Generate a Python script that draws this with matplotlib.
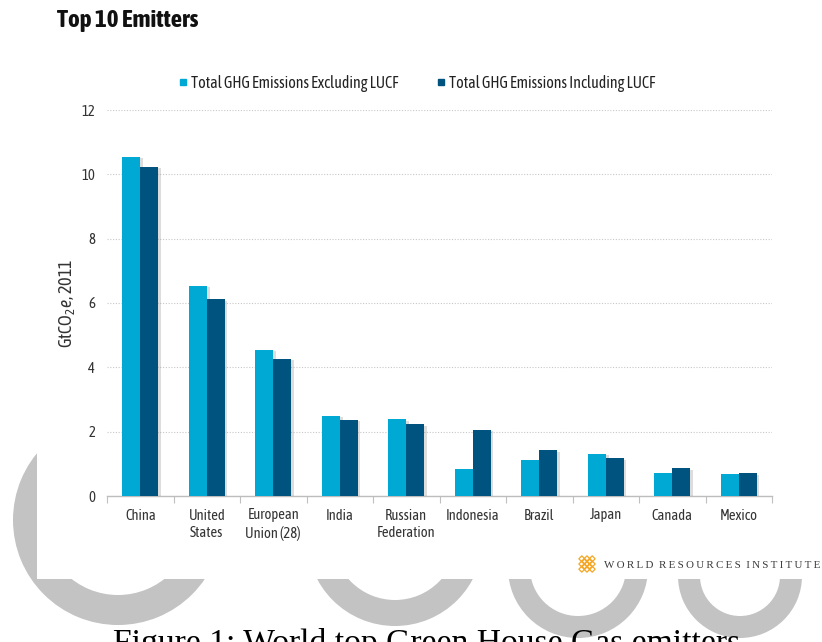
import matplotlib
matplotlib.use('Agg')
import matplotlib.pyplot as plt
import numpy as np
from matplotlib import font_manager
from matplotlib.patches import Wedge, Rectangle
from matplotlib.lines import Line2D
import matplotlib.patheffects as pe

# ---------------- data ----------------
categories = ["China", "United\nStates", "European\nUnion (28)", "India", "Russian\nFederation",
              "Indonesia", "Brazil", "Japan", "Canada", "Mexico"]
excl_lucf = [10.54, 6.53, 4.54, 2.49, 2.38, 0.84, 1.13, 1.31, 0.71, 0.69]
incl_lucf = [10.23, 6.12, 4.26, 2.36, 2.23, 2.05, 1.42, 1.17, 0.86, 0.71]
series_names = ["Total GHG Emissions Excluding LUCF", "Total GHG Emissions Including LUCF"]
yticks = [0, 2, 4, 6, 8, 10, 12]

# ---------------- fonts ----------------
fl = font_manager.fontManager.ttflist
def wnum(w):
    if isinstance(w, (int, float)):
        return w
    return {'ultralight': 200, 'light': 300, 'normal': 400, 'regular': 400, 'book': 400,
            'medium': 500, 'semibold': 600, 'demibold': 600, 'bold': 700, 'heavy': 800,
            'extra bold': 800, 'black': 900}.get(str(w).lower(), 400)
cond = {}
for f in fl:
    if ('Condensed' in f.name or 'Narrow' in f.name) and 'Mono' not in f.name and 'Serif' not in f.name:
        cond.setdefault(f.name, set()).add(wnum(f.weight))
FAM, SC, HASBOLD = 'Liberation Sans', 0.84, True
if 'Liberation Sans Narrow' in cond:
    FAM, SC = 'Liberation Sans Narrow', 1.0
elif cond:
    def score(item):
        n, ws = item
        return (400 in ws) * 2 + any(w >= 600 for w in ws)
    FAM = max(cond.items(), key=score)[0]
    SC = 1.0
    HASBOLD = any(w >= 600 for w in cond[FAM])
REGW = 400
if FAM in cond and 400 not in cond[FAM]:
    REGW = min(cond[FAM], key=lambda w: abs(w - 400))
EXTRA = [pe.withStroke(linewidth=0.35, foreground='#333333')] if REGW < 400 else []

plt.rcParams['font.family'] = [FAM, 'DejaVu Sans']
plt.rcParams['mathtext.fontset'] = 'custom'
plt.rcParams['mathtext.rm'] = FAM
plt.rcParams['mathtext.it'] = FAM + ':italic'

W, H = 822, 642
fig = plt.figure(figsize=(W / 100, H / 100), dpi=100)
fig.patch.set_facecolor('white')

# ---------------- background watermark ----------------
bg = fig.add_axes([0, 0, 1, 1], zorder=0)
bg.set_xlim(0, W)
bg.set_ylim(H, 0)
bg.axis('off')
ARC = '#c3c3c3'
for (cx, cy, r, w) in [(118, 520, 105, 30), (395, 538, 88, 26), (578, 568, 70, 22), (740, 576, 62, 22)]:
    bg.add_patch(Wedge((cx, cy), r, 0, 360, width=w, facecolor=ARC, edgecolor='none', zorder=1))
bg.add_patch(Rectangle((37, 0), W - 37, 579, facecolor='white', edgecolor='none', zorder=2))

# logo
lx, ly = 587, 564
pts = []
for i in range(-2, 3):
    for j in range(-2, 3):
        if abs(i) + abs(j) <= 2:
            pts.append((lx + (i - j) * 2.6, ly + (i + j) * 2.6))
pts = np.array(pts)
bg.scatter(pts[:, 0], pts[:, 1], marker='D', s=9, facecolor='none', edgecolor='#f5a623',
           linewidths=0.9, zorder=3)
logo_txt = "  ".join("\u2009".join(word) for word in "WORLD RESOURCES INSTITUTE".split())
logo = bg.text(604, 565, logo_txt, fontfamily='Liberation Serif',
               fontsize=8, color='#3a3a3a', va='center', ha='left', zorder=3)

# caption (cut by the bottom edge, as in the reference)
cap = bg.text(427, 652, "Figure 1: World top Green House Gas emitters", fontfamily='Liberation Serif',
              fontsize=23, color='black', va='baseline', ha='center', zorder=4)

# title
title = fig.text(57 / W, 1 - 9 / H, "Top 10 Emitters", fontsize=13.5, fontweight='bold',
                 va='top', ha='left', color='#111111')
if not HASBOLD:
    title.set_path_effects([pe.withStroke(linewidth=1.3, foreground='#111111')])

# ---------------- main axes ----------------
left, right, top, bottom = 107, 772, 110, 496
ax = fig.add_axes([left / W, 1 - bottom / H, (right - left) / W, (bottom - top) / H], zorder=5)
ax.set_facecolor('none')

LIGHT = '#00a9d4'
DARK = '#00537e'
x = np.arange(len(categories))
bw = 0.27
shadow = [pe.SimplePatchShadow(offset=(2, -1), shadow_rgbFace='#666666', alpha=0.22), pe.Normal()]
b1 = ax.bar(x - bw / 2, excl_lucf, bw, color=LIGHT, zorder=3)
b2 = ax.bar(x + bw / 2, incl_lucf, bw, color=DARK, zorder=3)
for b in list(b1) + list(b2):
    b.set_path_effects(shadow)

FS = 10.5 * SC
ax.set_xlim(-0.5, len(categories) - 0.5)
ax.set_ylim(0, 12)
ax.set_yticks(yticks)
ax.set_yticklabels([str(t) for t in yticks])
ax.yaxis.grid(True, linestyle=(0, (1, 1.5)), color='#c8c8c8', linewidth=0.8, zorder=0)
ax.set_axisbelow(True)
ax.tick_params(axis='y', length=0, pad=8.5, labelsize=FS, labelcolor='#333333')
ax.set_xticks(x)
ax.set_xticklabels(categories, linespacing=1.3)
ax.tick_params(axis='x', length=0, pad=9, labelsize=FS, labelcolor='#333333')
ax.set_xticks(np.arange(-0.5, len(categories), 1.0), minor=True)
ax.tick_params(axis='x', which='minor', length=5, color='#c0c0c0', width=0.8, direction='out')
for s in ['left', 'top', 'right']:
    ax.spines[s].set_visible(False)
ax.spines['bottom'].set_color('#bdbdbd')
ax.spines['bottom'].set_linewidth(1.0)

ylab = ax.set_ylabel(r"GtCO$_2$$\it{e}$, 2011", fontsize=10 * SC, color='#333333')
ylab.set_va('center')
ax.yaxis.set_label_coords((67 - left) / (right - left), 0.5)

handles = [Line2D([0], [0], marker='s', linestyle='none', markersize=5, markerfacecolor=c,
                  markeredgecolor=c) for c in (LIGHT, DARK)]
leg = fig.legend(handles, series_names, loc='center', bbox_to_anchor=(417 / W, 1 - 83 / H), ncol=2,
                 frameon=False, fontsize=FS, handlelength=0.6, handletextpad=0.25, columnspacing=2.6,
                 labelcolor='#222222')

if EXTRA:
    for t in ax.get_xticklabels() + ax.get_yticklabels() + leg.get_texts() + [ylab]:
        t.set_path_effects(EXTRA)

# fit some text widths to the reference
fig.canvas.draw()
r = fig.canvas.get_renderer()
def fit(t, target, vertical=False):
    bb = t.get_window_extent(r)
    wdt = bb.height if vertical else bb.width
    t.set_fontsize(t.get_fontsize() * target / wdt)
fit(cap, 627)
fit(logo, 217)
fit(title, 142)
fit(ylab, 90, vertical=True)
lt = leg.get_texts()
fit(lt[0], 209)
lt[1].set_fontsize(lt[0].get_fontsize())

fig.savefig('out.png', dpi=100, facecolor='white')
